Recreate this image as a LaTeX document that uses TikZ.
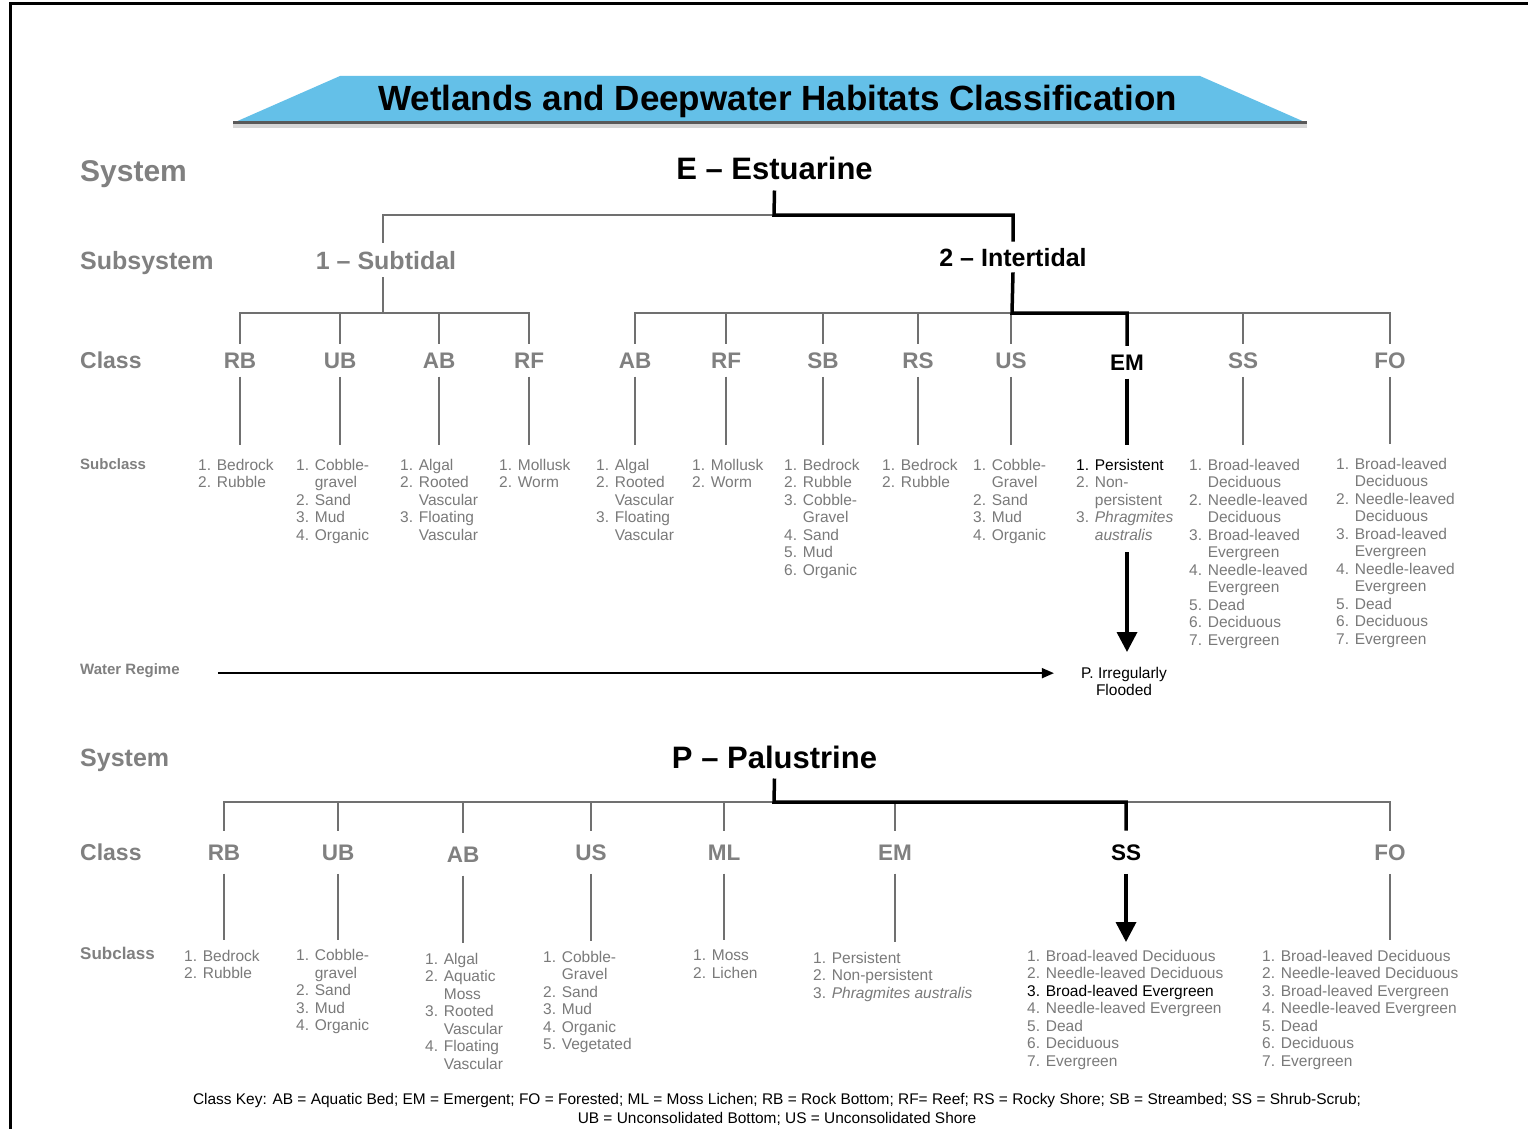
\documentclass[tikz,border=0pt]{standalone}
\usepackage{fontspec}
\setmainfont{Liberation Sans}
\usetikzlibrary{arrows.meta}
\definecolor{txtgray}{RGB}{128,128,128}
\definecolor{itemgray}{RGB}{122,122,122}
\definecolor{linegray}{RGB}{112,112,112}
\definecolor{bannerblue}{RGB}{100,192,232}
\newcommand\myfs[2]{\fontsize{#1}{#2}\selectfont}
\newcommand\ind{\phantom{1. }}
\begin{document}
\begin{tikzpicture}[x=1pt,y=-1pt,
  lbl/.style={anchor=base west, inner sep=0pt, text=txtgray},
  cls/.style={anchor=base, inner xsep=0pt, font=\bfseries\myfs{22.5}{27}, text=txtgray},
  clsT/.style={cls, inner ysep=8.5pt},
  clsB/.style={cls, inner ysep=13.5pt},
  lst/.style={anchor=north west, inner sep=0pt, align=left, text=itemgray, font=\myfs{15.5}{17.5}},
  gl/.style={draw=linegray, line width=2.2pt},
  bl/.style={draw=black, line width=3.5pt},
  bigtip/.style={-{Triangle[width=20pt,length=20pt]}}
]
\useasboundingbox (0,0) rectangle (1528,1129);
\fill[white] (0,0) rectangle (1528,1129);
% frame
\draw[line width=3pt] (10,1129) -- (10,4) -- (1528,4);

% banner
\fill[bannerblue] (233,123) -- (340,76) -- (1200,76) -- (1307,123) -- cycle;
\fill[black!45, opacity=0.35] (233,123) rectangle (1307,128);
\draw[line width=2.5pt, color=black!65] (233,122.5) -- (1307,122.5);
\node[anchor=base, inner sep=0pt, font=\bfseries\myfs{35}{40}] (title) at (777.5,110.5) {Wetlands and Deepwater Habitats Classification};

% left labels
\node[lbl, font=\bfseries\myfs{30}{36}] (sysT) at (80,181) {System};
\node[lbl, font=\bfseries\myfs{25}{30}] (subsys) at (80,269) {Subsystem};
\node[lbl, font=\bfseries\myfs{23}{28}] (classT) at (80,368) {Class};
\node[lbl, font=\bfseries\myfs{15}{18}] (subclT) at (80,469) {Subclass};
\node[lbl, font=\bfseries\myfs{15}{18}] (WR) at (80,674) {Water Regime};
\node[lbl, font=\bfseries\myfs{25}{30}] (sysB) at (80,766) {System};
\node[lbl, font=\bfseries\myfs{23}{28}] (classB) at (80,860) {Class};
\node[lbl, font=\bfseries\myfs{17}{20}] (subclB) at (80,959) {Subclass};

% ===== Estuarine =====
\node[anchor=base, inner xsep=0pt, inner ysep=11pt, font=\bfseries\myfs{31}{36}] (E) at (774.5,179) {E -- Estuarine};
\node[anchor=base, inner xsep=0pt, inner ysep=8pt, font=\bfseries\myfs{25}{30}, text=txtgray] (Sub) at (386,269) {1 -- Subtidal};
\node[anchor=base, inner xsep=0pt, inner ysep=6pt, font=\bfseries\myfs{25}{30}] (Int) at (1013,266) {2 -- Intertidal};
\coordinate (eJ) at (774,215);
\coordinate (subJ) at (383,313);
\coordinate (intJ) at (1012,313);

% class nodes top
\node[clsT] (tRB) at (240,368) {RB};
\node[clsT] (tUB) at (340,368) {UB};
\node[clsT] (tABa) at (439,368) {AB};
\node[clsT] (tRFa) at (529,368) {RF};
\node[clsT] (tABb) at (635,368) {AB};
\node[clsT] (tRFb) at (726,368) {RF};
\node[clsT] (tSB) at (823,368) {SB};
\node[clsT] (tRS) at (918,368) {RS};
\node[clsT] (tUS) at (1011,368) {US};
\node[clsT, text=black] (tEM) at (1127,370) {EM};
\node[clsT] (tSS) at (1243,368) {SS};
\node[clsT] (tFO) at (1390,368) {FO};

% subclass lists top
\node[lst] (lRB) at (198,459) {1. Bedrock\\2. Rubble};
\node[lst] (lUB) at (296,459) {1. Cobble-\\\ind gravel\\2. Sand\\3. Mud\\4. Organic};
\node[lst] (lABa) at (400,459) {1. Algal\\2. Rooted\\\ind Vascular\\3. Floating\\\ind Vascular};
\node[lst] (lRFa) at (499,459) {1. Mollusk\\2. Worm};
\node[lst] (lABb) at (596,459) {1. Algal\\2. Rooted\\\ind Vascular\\3. Floating\\\ind Vascular};
\node[lst] (lRFb) at (692,459) {1. Mollusk\\2. Worm};
\node[lst] (lSB) at (784,459) {1. Bedrock\\2. Rubble\\3. Cobble-\\\ind Gravel\\4. Sand\\5. Mud\\6. Organic};
\node[lst] (lRS) at (882,459) {1. Bedrock\\2. Rubble};
\node[lst] (lUS) at (973,459) {1. Cobble-\\\ind Gravel\\2. Sand\\3. Mud\\4. Organic};
\node[lst] (lEM) at (1076,459) {\textcolor{black}{1. Persistent}\\2. Non-\\\ind persistent\\3. \textit{Phragmites}\\\ind\textit{australis}};
\node[lst] (lSS) at (1189,459) {1. Broad-leaved\\\ind Deciduous\\2. Needle-leaved\\\ind Deciduous\\3. Broad-leaved\\\ind Evergreen\\4. Needle-leaved\\\ind Evergreen\\5. Dead\\6. Deciduous\\7. Evergreen};
\node[lst] (lFO) at (1336,458) {1. Broad-leaved\\\ind Deciduous\\2. Needle-leaved\\\ind Deciduous\\3. Broad-leaved\\\ind Evergreen\\4. Needle-leaved\\\ind Evergreen\\5. Dead\\6. Deciduous\\7. Evergreen};

\node[anchor=north, inner sep=0pt, align=center, font=\myfs{15.5}{17.5}] (Irr) at (1124,667) {P. Irregularly\\Flooded};

% gray tree lines (top)
\draw[gl] (eJ) -| (subJ |- Sub.north);
\draw[gl] (subJ |- Sub.south) -- (subJ);
\draw[gl] (tRB.north) |- (subJ) -| (tRFa.north);
\draw[gl] (tUB.north) -- (tUB.north |- subJ);
\draw[gl] (tABa.north) -- (tABa.north |- subJ);
\draw[gl] (tABb.north) |- (intJ) -| (tFO.north);
\draw[gl] (tRFb.north) -- (tRFb.north |- intJ);
\draw[gl] (tSB.north) -- (tSB.north |- intJ);
\draw[gl] (tRS.north) -- (tRS.north |- intJ);
\draw[gl] (tUS.north) -- (tUS.north |- intJ);
\draw[gl] (tSS.north) -- (tSS.north |- intJ);
\foreach \c/\l in {tRB/lRB,tUB/lUB,tABa/lABa,tRFa/lRFa,tABb/lABb,tRFb/lRFb,tSB/lSB,tRS/lRS,tUS/lUS,tSS/lSS,tFO/lFO}
  \draw[gl, shorten >=14pt] (\c.south) -- (\c.south |- \l.north);
% black path (top)
\draw[bl] (E.south) -- (eJ) -| (Int.north);
\draw[bl] (Int.south) -- (intJ) -| (tEM.north);
\draw[bl, shorten >=14pt] (tEM.south) -- (tEM.south |- lEM.north);
\draw[bl, bigtip, shorten <=11.5pt, shorten >=15pt] (tEM.south |- lEM.south) -- (tEM.south |- Irr.north);
% water regime arrow
\draw[line width=1.8pt, -{Triangle[width=10pt,length=12pt]}, shorten <=38pt, shorten >=27pt] ([yshift=-3pt]WR.east) -- ([yshift=-3pt]WR.east -| Irr.west);

% ===== Palustrine =====
\node[anchor=base, inner xsep=0pt, inner ysep=10pt, font=\bfseries\myfs{31}{36}] (P) at (774.5,768) {P -- Palustrine};
\coordinate (pJ) at (774,802);
\node[clsB] (bRB) at (224,860) {RB};
\node[clsB] (bUB) at (338,860) {UB};
\node[clsB] (bAB) at (463,862) {AB};
\node[clsB] (bUS) at (591,860) {US};
\node[clsB] (bML) at (724,860) {ML};
\node[clsB] (bEM) at (895,860) {EM};
\node[clsB, text=black] (bSS) at (1126,860) {SS};
\node[clsB] (bFO) at (1390,860) {FO};

\node[lst] (mRB) at (184,950) {1. Bedrock\\2. Rubble};
\node[lst] (mUB) at (296,949.5) {1. Cobble-\\\ind gravel\\2. Sand\\3. Mud\\4. Organic};
\node[lst] (mAB) at (425,953) {1. Algal\\2. Aquatic\\\ind Moss\\3. Rooted\\\ind Vascular\\4. Floating\\\ind Vascular};
\node[lst] (mUS) at (543,951) {1. Cobble-\\\ind Gravel\\2. Sand\\3. Mud\\4. Organic\\5. Vegetated};
\node[lst] (mML) at (693,950) {1. Moss\\2. Lichen};
\node[lst] (mEM) at (813,952) {1. Persistent\\2. Non-persistent\\3. \textit{Phragmites australis}};
\node[lst] (mSS) at (1027,950) {1. Broad-leaved Deciduous\\2. Needle-leaved Deciduous\\\textcolor{black}{3. Broad-leaved Evergreen}\\4. Needle-leaved Evergreen\\5. Dead\\6. Deciduous\\7. Evergreen};
\node[lst] (mFO) at (1262,950) {1. Broad-leaved Deciduous\\2. Needle-leaved Deciduous\\3. Broad-leaved Evergreen\\4. Needle-leaved Evergreen\\5. Dead\\6. Deciduous\\7. Evergreen};

\draw[gl] (bRB.north) |- (pJ) -| (bFO.north);
\foreach \c in {bUB,bAB,bUS,bML,bEM}
  \draw[gl] (\c.north) -- (\c.north |- pJ);
\foreach \c/\l in {bRB/mRB,bUB/mUB,bAB/mAB,bUS/mUS,bML/mML,bEM/mEM,bFO/mFO}
  \draw[gl, shorten >=10pt] (\c.south) -- (\c.south |- \l.north);
\draw[bl] (P.south) -- (pJ) -| (bSS.north);
\draw[bl, bigtip, shorten >=8pt] (bSS.south) -- (bSS.south |- mSS.north);

% class key
\node[anchor=north, inner sep=0pt, align=center, font=\myfs{15.45}{19}] (key) at (777,1093.5) {Class Key: AB = Aquatic Bed; EM = Emergent; FO = Forested; ML = Moss Lichen; RB = Rock Bottom; RF= Reef; RS = Rocky Shore; SB = Streambed; SS = Shrub-Scrub;\\UB = Unconsolidated Bottom; US = Unconsolidated Shore};
\end{tikzpicture}
\end{document}
